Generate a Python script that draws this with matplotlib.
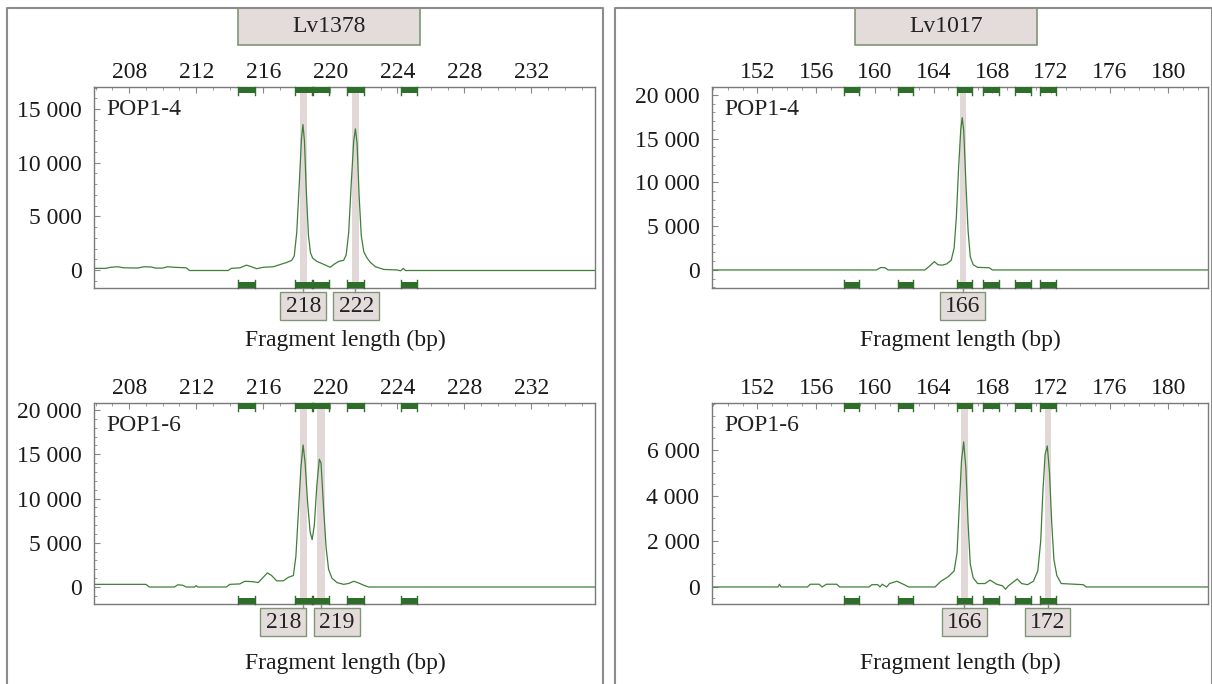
import matplotlib
matplotlib.use("Agg")
import matplotlib.pyplot as plt
from matplotlib.patches import Rectangle
from matplotlib.lines import Line2D
from matplotlib import ticker

plt.rcParams['font.family'] = ['Liberation Serif', 'DejaVu Serif']
plt.rcParams['font.size'] = 17

# ---- data ----
marker_names = ["Lv1378", "Lv1017"]
sample_names = ["POP1-4", "POP1-6"]

# Lv1378, POP1-4
tl_x = [205.9, 206.6, 206.9, 207.3, 207.7, 208.5, 208.9, 209.3, 209.6, 210.0, 210.3, 210.7,
        211.4, 211.6, 213.9, 214.1, 214.6, 215.0, 215.3, 215.6, 216.0, 216.6, 217.0, 217.4,
        217.7, 217.85, 218.0, 218.15, 218.28, 218.37, 218.46, 218.58, 218.7, 218.82, 218.95,
        219.2, 219.5, 220.0, 220.2, 220.5, 220.8, 220.95, 221.1, 221.25, 221.4, 221.5, 221.6,
        221.72, 221.85, 222.0, 222.2, 222.4, 222.7, 223.2, 224.0, 224.2, 224.35, 224.5, 224.7, 235.8]
tl_y = [150, 150, 250, 300, 200, 180, 300, 280, 170, 180, 300, 250,
        200, -50, -50, 150, 200, 450, 300, 120, 250, 300, 500, 700,
        900, 1300, 3500, 8000, 12200, 13550, 12000, 7000, 3200, 1600, 1100,
        800, 600, 250, 500, 800, 900, 1400, 3500, 8000, 12000, 13150, 11800,
        7000, 3200, 1700, 1100, 700, 300, 50, 0, -80, 150, -60, -50, -50]

# Lv1017, POP1-4
tr_x = [148.9, 160.1, 160.4, 160.7, 160.9, 163.4, 163.7, 164.05, 164.3, 164.6, 164.9, 165.2,
        165.4, 165.55, 165.7, 165.85, 165.95, 166.05, 166.2, 166.35, 166.5, 166.7, 167.0,
        167.8, 168.0, 182.7]
tr_y = [0, 0, 280, 250, 0, 0, 400, 950, 600, 550, 700, 1100,
        2500, 6000, 11500, 16000, 17400, 16000, 10000, 4500, 1500, 600, 300,
        250, 0, 0]

# Lv1378, POP1-6
bl_x = [205.9, 209.0, 209.2, 210.7, 210.9, 211.2, 211.4, 211.9, 212.0, 212.1, 213.8, 214.0,
        214.6, 214.9, 215.4, 215.7, 216.0, 216.25, 216.5, 216.8, 217.2, 217.5, 217.8, 217.95,
        218.1, 218.25, 218.38, 218.5, 218.65, 218.8, 218.92, 219.05, 219.2, 219.35, 219.45,
        219.6, 219.75, 219.9, 220.1, 220.4, 220.8, 221.1, 221.4, 221.7, 222.0, 222.3, 235.8]
bl_y = [300, 300, 0, 0, 250, 200, 0, 0, 150, 0, 0, 300,
        350, 650, 600, 500, 1100, 1600, 1300, 700, 700, 1100, 1300, 3500,
        8500, 13500, 16050, 14000, 9500, 6200, 5350, 7000, 11500, 14450, 14000,
        9000, 4500, 2000, 1000, 500, 300, 400, 650, 450, 200, 0, 0]

# Lv1017, POP1-6
br_x = [148.9, 153.4, 153.5, 153.6, 155.4, 155.6, 156.2, 156.4, 156.7, 157.4, 157.6, 159.6,
        159.8, 160.2, 160.35, 160.5, 160.8, 161.0, 161.5, 162.0, 162.3, 164.1, 164.5, 165.0,
        165.4, 165.6, 165.75, 165.9, 166.05, 166.2, 166.35, 166.5, 166.7, 167.0, 167.5, 167.85,
        168.3, 168.7, 168.9, 169.1, 169.5, 169.7, 170.0, 170.4, 170.8, 171.1, 171.3, 171.45,
        171.6, 171.75, 171.9, 172.05, 172.2, 172.4, 172.7, 174.2, 174.4, 182.7]
br_y = [0, 0, 120, 0, 0, 120, 120, 0, 120, 120, 0, 0,
        100, 100, 0, 120, 0, 150, 250, 100, 0, 0, 250, 450,
        700, 1500, 3500, 5500, 6350, 5200, 2800, 1000, 400, 150, 150, 300,
        120, 50, -100, 50, 250, 350, 150, 100, 250, 700, 2000, 4200,
        5800, 6170, 5000, 2800, 1200, 500, 150, 100, 0, 0]

bins_1378 = [215.0, 218.4, 219.45, 221.5, 224.7]
bins_1017 = [158.4, 162.1, 166.1, 167.9, 170.1, 171.8]

# called alleles: (label, bin position, box centre)
calls_tl = [("218", 218.4, 218.4), ("222", 221.5, 221.55)]
calls_tr = [("166", 166.0, 166.0)]
calls_bl = [("218", 218.4, 217.2), ("219", 219.45, 220.4)]
calls_br = [("166", 166.1, 166.1), ("172", 171.8, 171.75)]

W, H = 1212, 684
fig = plt.figure(figsize=(W / 100, H / 100), dpi=100)

GREEN = "#2f6e2a"
TRACE = "#3f7f3a"
BAND = "#e2d8d8"
BOXFILL = "#e4dcda"
BOXEDGE = "#7f9776"
FRAME = "#8c8c8c"


def px_axes(x0, y0, x1, y1):
    return fig.add_axes([x0 / W, 1 - y1 / H, (x1 - x0) / W, (y1 - y0) / H])


def thousands(v, pos):
    return f"{v:,.0f}".replace(",", " ")


def panel(box, x, y, xlim, ylim, yticks, yminor, bins, binw, calls, sample, boxw):
    ax = px_axes(*box)
    ax.set_xlim(*xlim)
    ax.set_ylim(*ylim)
    tr = ax.get_xaxis_transform()

    for _, pos, _ in calls:
        ax.axvspan(pos - 0.22, pos + 0.22, color=BAND, lw=0, zorder=0)

    ax.plot(x, y, color=TRACE, lw=0.9, zorder=2)

    # allele bins, drawn on the top and bottom spines
    for b in bins:
        for base, sgn in ((1.0, -1), (0.0, 1)):
            ax.add_patch(Rectangle((b - binw / 2, min(base, base + sgn * 0.032)), binw, 0.032,
                                   transform=tr, color=GREEN, lw=0, zorder=3, clip_on=False))
            for e in (b - binw / 2, b + binw / 2):
                ax.add_line(Line2D([e, e], [base, base + sgn * 0.042], transform=tr,
                                   color=GREEN, lw=1.0, zorder=3, clip_on=False))

    for lab, pos, cen in calls:
        ax.add_line(Line2D([pos, pos], [0, -0.02], transform=tr, color=BOXEDGE, lw=1,
                           clip_on=False))
        ax.add_patch(Rectangle((cen - boxw / 2, -0.16), boxw, 0.14, transform=tr,
                               facecolor=BOXFILL, edgecolor=BOXEDGE, lw=1, clip_on=False))
        ax.text(cen, -0.09, lab, transform=tr, ha="center", va="center", color="#222222")

    ax.text(0.024, 0.89, sample, transform=ax.transAxes, ha="left", va="center",
            color="#222222")

    ax.xaxis.set_ticks_position("top")
    ax.set_xticks(range(int(xlim[0]) + 4 - int(xlim[0]) % 4, int(xlim[1]), 4))
    ax.xaxis.set_minor_locator(ticker.MultipleLocator(1))
    ax.tick_params(axis="x", which="both", direction="in", top=True, bottom=False,
                   labeltop=True, labelbottom=False, pad=3, colors="#888888",
                   labelcolor="#1a1a1a")
    ax.tick_params(axis="x", which="major", length=4)
    ax.tick_params(axis="x", which="minor", length=2.5)
    ax.set_yticks(yticks)
    ax.yaxis.set_minor_locator(ticker.MultipleLocator(yminor))
    ax.yaxis.set_major_formatter(ticker.FuncFormatter(thousands))
    ax.tick_params(axis="y", which="both", direction="in", left=True, right=False,
                   pad=9, colors="#888888", labelcolor="#1a1a1a")
    ax.tick_params(axis="y", which="major", length=4)
    ax.tick_params(axis="y", which="minor", length=2)
    for s in ax.spines.values():
        s.set_color("#7a7a7a")
        s.set_linewidth(1)
    return ax


panel((94, 87, 595, 288), tl_x, tl_y, (205.9, 235.8), (-1680, 17050),
      [0, 5000, 10000, 15000], 1000, bins_1378, 1.0, calls_tl, sample_names[0], 2.75)
panel((712, 87, 1208, 288), tr_x, tr_y, (148.9, 182.7), (-2060, 20900),
      [0, 5000, 10000, 15000, 20000], 1000, bins_1017, 1.05, calls_tr, sample_names[0], 3.06)
panel((94, 403, 595, 604), bl_x, bl_y, (205.9, 235.8), (-1920, 20800),
      [0, 5000, 10000, 15000, 20000], 1000, bins_1378, 1.0, calls_bl, sample_names[1], 2.75)
panel((712, 403, 1208, 604), br_x, br_y, (148.9, 182.7), (-745, 8050),
      [0, 2000, 4000, 6000], 500, bins_1017, 1.05, calls_br, sample_names[1], 3.06)

# x axis titles
for cx in (345, 960):
    for cy in (340, 663):
        fig.text(cx / W, 1 - cy / H, "Fragment length (bp)", ha="center", va="center",
                 color="#1a1a1a")

# outer frames
for x0, x1 in ((7, 603), (615, 1212)):
    fig.add_artist(Line2D([x0 / W, x0 / W, x1 / W, x1 / W], [0, 1 - 8 / H, 1 - 8 / H, 0],
                          transform=fig.transFigure, color=FRAME, lw=1.5))

# marker header boxes
for name, x0, x1 in ((marker_names[0], 238, 420), (marker_names[1], 855, 1037)):
    fig.add_artist(Rectangle((x0 / W, 1 - 45 / H), (x1 - x0) / W, 37 / H,
                             transform=fig.transFigure, facecolor=BOXFILL,
                             edgecolor=BOXEDGE, lw=1.2))
    fig.text((x0 + x1) / 2 / W, 1 - 27 / H, name, ha="center", va="center", color="#222222")

fig.savefig("out.png", dpi=100, facecolor="white")
